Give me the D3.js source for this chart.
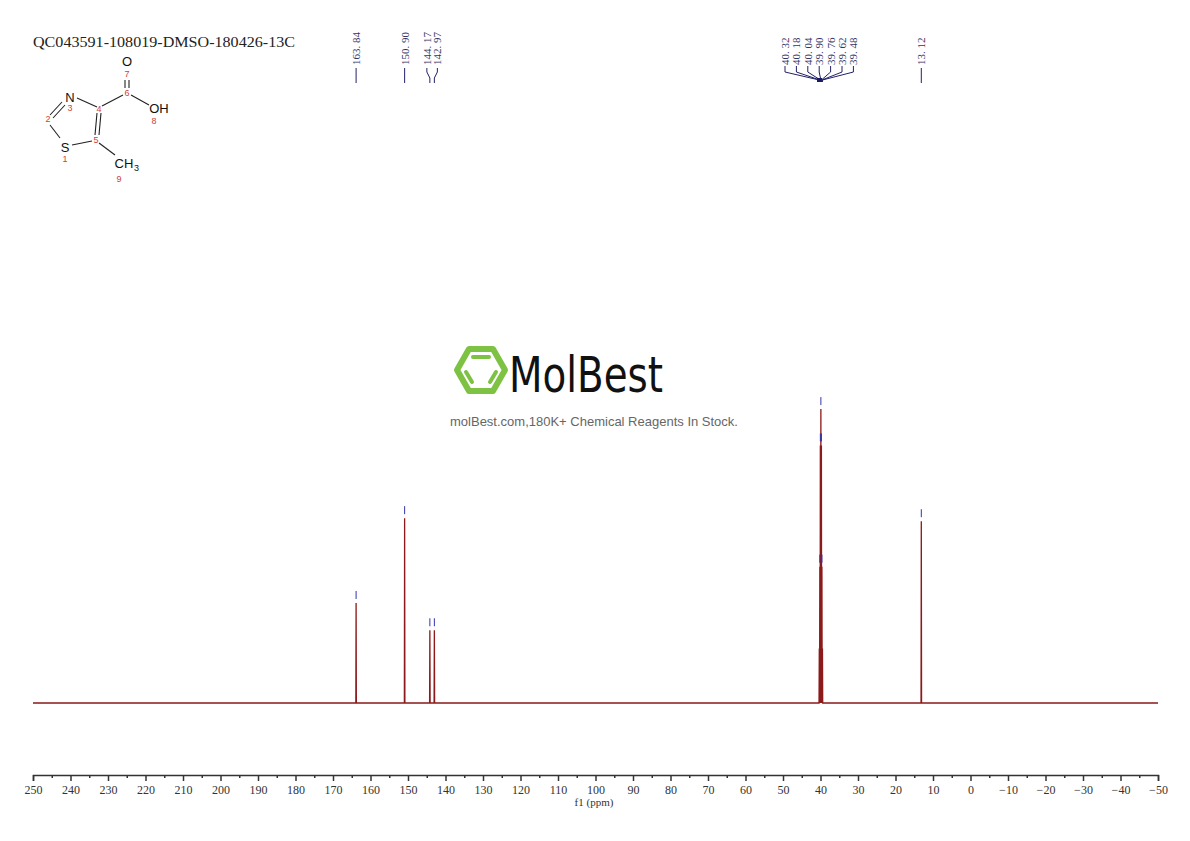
<!DOCTYPE html>
<html><head><meta charset="utf-8">
<script src="https://cdn.jsdelivr.net/npm/d3@7"></script>
<style>body{margin:0;background:#fff}</style></head>
<body><svg id="c" width="1190" height="841"></svg>
<script>
const title = "QC043591-108019-DMSO-180426-13C";
const peakPpm = [163.84, 150.90, 144.17, 142.97, 40.32, 40.18, 40.04, 39.90, 39.76, 39.62, 39.48, 13.12];
const peakHeight = [33, 61, 24, 24, 18, 45, 85, 97, 85, 45, 18, 60];
const labelPpm = ["163. 84","150. 90","144. 17","142. 97","40. 32","40. 18","40. 04","39. 90","39. 76","39. 62","39. 48","13. 12"];
const tickValues = d3.range(250, -51, -10);

const svg = d3.select("#c");
const x = d3.scaleLinear().domain([250, -50]).range([33, 1158]);
const y = d3.scaleLinear().domain([0, 100]).range([703, 400]);
const serif = "'Liberation Serif','DejaVu Serif',serif";

svg.append("text").attr("x",33).attr("y",47).attr("font-family",serif).attr("font-size",15).attr("textLength",262).attr("lengthAdjust","spacingAndGlyphs").attr("fill","#222").text(title);

// molecule
const mol = svg.append("g").attr("stroke","#222").attr("stroke-width",1.1).attr("fill","none");
const bonds = [[[77,98],[97,107]],[[62,102],[50,115]],[[65,105],[53,118]],[[50,125],[60,138]],[[72,145],[92,141]],[[97,113],[95,135]],[[101,113],[99,135]],[[102,106],[123,95]],[[125,80],[125,88]],[[129,80],[129,88]],[[131,95],[149,105]],[[99,143],[115,155]]];
bonds.forEach(b=>mol.append("line").attr("x1",b[0][0]).attr("y1",b[0][1]).attr("x2",b[1][0]).attr("y2",b[1][1]));
const atoms=[["N",70,102],["S",65,152],["O",127,66],["OH",159,113],["CH",124,168]];
atoms.forEach(a=>svg.append("text").attr("x",a[1]).attr("y",a[2]).attr("text-anchor","middle").attr("font-family","Arial,'Liberation Sans',sans-serif").attr("font-size",13).attr("fill","#111").text(a[0]));
svg.append("text").attr("x",134).attr("y",171).attr("font-family","Arial,sans-serif").attr("font-size",9).attr("fill","#111").text("3");
const nums=[["1",65,162],["2",48,122],["3",70,111],["4",99,112],["5",96,143],["6",127,96],["7",127,77],["8",154,124],["9",119,182]];
nums.forEach(n=>svg.append("text").attr("x",n[1]).attr("y",n[2]).attr("text-anchor","middle").attr("font-family","Arial,sans-serif").attr("font-size",9).attr("fill","#d04040").text(n[0]));

// peak labels
const lab = svg.append("g");
const clusterX = d3.range(7).map(i=>785+i*11.4);
peakPpm.forEach((p,i)=>{
  let lx = x(p);
  if(i===2) lx = x(p)-3; if(i===3) lx = x(p)+3;
  if(i>=4 && i<=10) lx = clusterX[i-4];
  lab.append("text").attr("transform",`translate(${lx+4},65) rotate(-90)`).attr("font-family",serif).attr("font-size",11).attr("fill","#333366").text(labelPpm[i]);
  let pts;
  if(i>=4 && i<=10) pts=[[lx,66],[lx,72],[x(p),80],[x(p),82]];
  else if(i===2||i===3) pts=[[lx,68],[lx,72],[x(p),78],[x(p),83]];
  else pts=[[lx,68],[lx,83]];
  lab.append("path").attr("d",d3.line()(pts)).attr("stroke","#222266").attr("fill","none").attr("stroke-width",1);
});
svg.append("rect").attr("x",817).attr("y",78).attr("width",5).attr("height",4).attr("fill","#1a1a66");

// logo
const lg = svg.append("g").attr("transform","translate(481,370)");
lg.append("path").attr("d","M-24,0 L-12,-21 L12,-21 L24,0 L12,21 L-12,21 Z").attr("fill","none").attr("stroke","#7dc242").attr("stroke-width",6).attr("stroke-linejoin","round");
[[-8,-13,8,-13],[-15,2,-9,12],[15,2,9,12]].forEach(l=>lg.append("line").attr("x1",l[0]).attr("y1",l[1]).attr("x2",l[2]).attr("y2",l[3]).attr("stroke","#7dc242").attr("stroke-width",4).attr("stroke-linecap","round"));
svg.append("text").attr("x",509).attr("y",392).attr("font-family","'DejaVu Sans Condensed','Liberation Sans Narrow',sans-serif").attr("font-size",50).attr("textLength",154).attr("lengthAdjust","spacingAndGlyphs").attr("fill","#111").text("MolBest");
svg.append("text").attr("x",594).attr("y",426).attr("text-anchor","middle").attr("font-family","Arial,'Liberation Sans',sans-serif").attr("font-size",13).attr("fill","#666").text("molBest.com,180K+ Chemical Reagents In Stock.");

// spectrum
const pts=[[250,0]];
const order = d3.range(peakPpm.length).sort((a,b)=>peakPpm[b]-peakPpm[a]);
order.forEach(i=>{const p=peakPpm[i];pts.push([p+0.07,0],[p,peakHeight[i]],[p-0.07,0]);});
pts.push([-50,0]);
svg.append("path").attr("d",d3.line().x(d=>x(d[0])).y(d=>y(d[1]))(pts)).attr("fill","none").attr("stroke","#8b1a1a").attr("stroke-width",1.3);
peakPpm.forEach((p,i)=>{ if(i===4||i===10) return;
  svg.append("line").attr("x1",x(p)).attr("x2",x(p)).attr("y1",y(peakHeight[i])-12).attr("y2",y(peakHeight[i])-4).attr("stroke","#3333aa").attr("stroke-width",1);});

// axis
const ax = d3.axisBottom(x).tickValues(tickValues).tickSize(6).tickFormat(d=>d<0?"\u2212"+(-d):d);
const g = svg.append("g").attr("transform","translate(0,775)").call(ax);
g.select(".domain").attr("stroke","#333").attr("stroke-width",1.5);
g.selectAll(".tick line").attr("stroke","#333").attr("stroke-width",1.5);
g.selectAll(".tick text").attr("font-family",serif).attr("font-size",12).attr("fill","#333").attr("dy","0.85em");
const minor = d3.axisBottom(x).tickValues(d3.range(245,-50,-10)).tickSize(3).tickFormat("");
const gm=svg.append("g").attr("transform","translate(0,775)").call(minor);
gm.select(".domain").remove(); gm.selectAll("line").attr("stroke","#333").attr("stroke-width",1.5);
svg.append("text").attr("x",594).attr("y",806).attr("text-anchor","middle").attr("font-family",serif).attr("font-size",11).attr("fill","#333").text("f1  (ppm)");
</script></body></html>
